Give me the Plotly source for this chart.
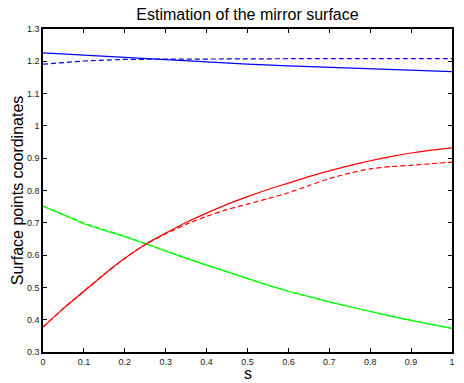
import plotly.graph_objects as go

s = [round(i * 0.05, 2) for i in range(21)]
s_blue = [round(i * 0.1, 1) for i in range(11)]

blue_solid = [1.226, 1.219, 1.211, 1.204, 1.197, 1.191, 1.186, 1.181, 1.176, 1.172, 1.168]
blue_dashed = [1.191, 1.201, 1.206, 1.207, 1.208, 1.208, 1.208, 1.208, 1.208, 1.208, 1.208]

red_solid = [0.377, 0.435, 0.488, 0.541, 0.590, 0.633, 0.668, 0.701, 0.730, 0.757, 0.781,
             0.803, 0.823, 0.843, 0.861, 0.877, 0.892, 0.905, 0.916, 0.925, 0.932]
red_dashed = [0.377, 0.435, 0.488, 0.541, 0.590, 0.633, 0.666, 0.695, 0.720, 0.741, 0.758,
              0.775, 0.793, 0.815, 0.837, 0.854, 0.867, 0.874, 0.878, 0.883, 0.888]

green_solid = [0.752, 0.724, 0.697, 0.676, 0.657, 0.635, 0.612, 0.590, 0.569, 0.548, 0.527,
               0.507, 0.488, 0.471, 0.455, 0.440, 0.425, 0.411, 0.398, 0.385, 0.373]
green_dashed = [0.752, 0.725, 0.699, 0.678, 0.659, 0.636, 0.613, 0.591, 0.569, 0.548, 0.527,
                0.507, 0.488, 0.471, 0.455, 0.440, 0.425, 0.411, 0.398, 0.385, 0.373]

x_ticks = [0, 0.1, 0.2, 0.3, 0.4, 0.5, 0.6, 0.7, 0.8, 0.9, 1]
x_tick_labels = ["0", "0.1", "0.2", "0.3", "0.4", "0.5", "0.6", "0.7", "0.8", "0.9", "1"]
y_ticks = [0.3, 0.4, 0.5, 0.6, 0.7, 0.8, 0.9, 1.0, 1.1, 1.2, 1.3]
y_tick_labels = ["0.3", "0.4", "0.5", "0.6", "0.7", "0.8", "0.9", "1", "1.1", "1.2", "1.3"]

FONT = "Liberation Sans, Arial"
dash = "5px,3px"
fig = go.Figure()
fig.add_trace(go.Scatter(x=s, y=green_dashed, mode="lines", line=dict(color="#00ff00", width=1.2, dash=dash)))
fig.add_trace(go.Scatter(x=s, y=green_solid, mode="lines", line=dict(color="#00ff00", width=1.2)))
fig.add_trace(go.Scatter(x=s, y=red_dashed, mode="lines", line=dict(color="#ff0000", width=1.2, dash=dash, shape="spline", smoothing=0.6)))
fig.add_trace(go.Scatter(x=s, y=red_solid, mode="lines", line=dict(color="#ff0000", width=1.2, shape="spline", smoothing=0.6)))
fig.add_trace(go.Scatter(x=s_blue, y=blue_dashed, mode="lines", line=dict(color="#0000ff", width=1.2, dash=dash)))
fig.add_trace(go.Scatter(x=s_blue, y=blue_solid, mode="lines", line=dict(color="#0000ff", width=1.2)))

axis_common = dict(showgrid=False, zeroline=False, showline=True, linecolor="black", linewidth=1.5,
                   mirror="ticks", ticks="inside", ticklen=4, tickcolor="black", tickwidth=1,
                   tickfont=dict(family=FONT, size=9, color="#222"))

fig.update_layout(
    width=464, height=383,
    margin=dict(l=43, r=9, t=29, b=31),
    paper_bgcolor="white", plot_bgcolor="white",
    showlegend=False,
    title=dict(text="Estimation of the mirror surface", xref="paper", x=0.5, xanchor="center",
               y=0.963, yanchor="middle",
               font=dict(family=FONT, size=16, color="black")),
    xaxis=dict(range=[0, 1], tickvals=x_ticks, ticktext=x_tick_labels, **axis_common),
    yaxis=dict(range=[0.3, 1.3], tickvals=y_ticks, ticktext=y_tick_labels, **axis_common),
    annotations=[
        dict(text="s", xref="paper", yref="paper", x=0.5, y=-0.067, xanchor="center", yanchor="middle",
             showarrow=False, font=dict(family=FONT, size=16, color="black")),
        dict(text="Surface points coordinates", xref="paper", yref="paper", x=-0.062, y=0.5,
             xanchor="center", yanchor="middle", textangle=-90,
             showarrow=False, font=dict(family=FONT, size=16, color="black")),
    ],
)

fig.write_html("out.html", config={"displayModeBar": False},
               post_script="document.body.style.margin='0';document.body.style.padding='0';"
                           "document.documentElement.style.overflow='hidden';")
